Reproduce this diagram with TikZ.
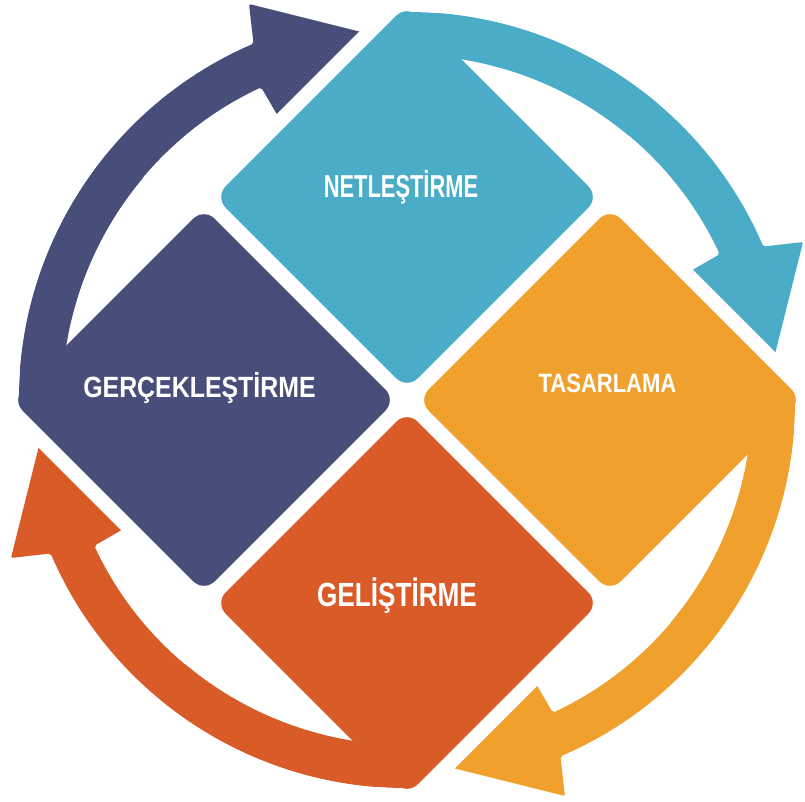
\documentclass[tikz,border=0pt]{standalone}
\usepackage{fontspec}
\setmainfont{Liberation Sans}
\usepackage{tikz}
\usetikzlibrary{calc}
\definecolor{netle}{RGB}{75,172,200}
\definecolor{tasar}{RGB}{240,160,44}
\definecolor{gelis}{RGB}{217,91,39}
\definecolor{gerce}{RGB}{71,78,122}
\tikzset{tile/.style={rounded corners=15pt}}
\tikzset{gap/.style={draw=white, line width=30pt, rounded corners=15pt}}
\tikzset{lbl/.style={text=white, font=\bfseries, inner sep=0pt, anchor=base}}
% one arrow (the blue one), the others are turned copies
\newcommand{\cyclearrow}{(90:388) arc[start angle=90, end angle=23.3, radius=388]
  -- (396,158) -- (367,42) -- (282,128) -- (25:345)
  arc[start angle=25, end angle=90, radius=345] -- cycle}
\newcommand{\cyclebody}{(90:388) arc[start angle=90, end angle=50, radius=388]
  -- (50:345) arc[start angle=50, end angle=90, radius=345] -- cycle}
\newcommand{\tileshape}{(0,192) -- (192,0) -- (0,-192) -- (-192,0) -- cycle}

\begin{document}
\begin{tikzpicture}[x=1pt, y=1pt]
  \useasboundingbox (-407,-401) rectangle (398,400);
  \foreach \a/\c in {0/netle, -90/tasar, -180/gelis, 90/gerce}
    \fill[\c, rounded corners=2pt, rotate=\a] \cyclearrow;
  % white gaps round the tiles
  \foreach \a in {90, 0, -90, 180}
    \path[gap, shift={(\a:203)}] \tileshape;
  \foreach \a/\c in {90/netle, 0/tasar, -90/gelis, 180/gerce}
    \fill[tile, \c, shift={(\a:203)}] \tileshape;
  \foreach \a/\c in {0/netle, -90/tasar, -180/gelis, 90/gerce}
    \fill[\c, rotate=\a] \cyclebody;
  % labels
  \node[lbl] (netle) at (-6,203) {\fontsize{31.7}{38}\selectfont\scalebox{0.69}[1]{NETLEŞTİRME}};
  \node[lbl] (tasar) at (200.5,8) {\fontsize{26.5}{32}\selectfont\scalebox{0.83}[1]{TASARLAMA}};
  \node[lbl] (gelis) at (-10,-206) {\fontsize{33.5}{40}\selectfont\scalebox{0.78}[1]{GELİŞTİRME}};
  \node[lbl] (gerce) at (-207.5,3) {\fontsize{29.3}{35}\selectfont\scalebox{0.85}[1]{GERÇEKLEŞTİRME}};
\end{tikzpicture}
\end{document}
